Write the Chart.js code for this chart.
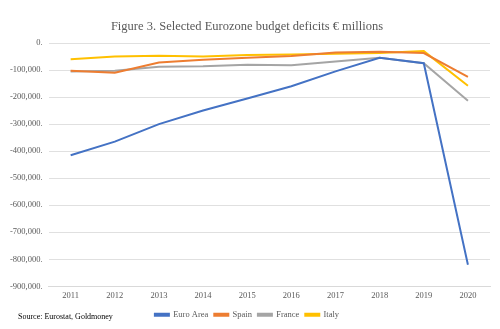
<!DOCTYPE html>
<html><head><meta charset="utf-8">
<script src="https://cdn.jsdelivr.net/npm/chart.js@4/dist/chart.umd.min.js"></script>
<style>
html,body{margin:0;padding:0;background:#fff;}
#wrap{position:relative;width:500px;height:329px;}
#src{position:absolute;left:18px;top:312px;font-family:"Liberation Serif",serif;font-size:8px;color:#000;}
</style></head><body>
<div id="wrap"><canvas id="c" width="500" height="329"></canvas><div id="src">Source: Eurostat, Goldmoney</div></div>
<script>
const years = ['2011','2012','2013','2014','2015','2016','2017','2018','2019','2020'];
const euroArea = [-415000,-365000,-300000,-250000,-205000,-160000,-105000,-55000,-75000,-820000];
const spain = [-103000,-110000,-72000,-62000,-55000,-48000,-35000,-32000,-37000,-125000];
const france = [-105000,-103000,-88000,-86000,-80000,-82000,-68000,-55000,-75000,-214000];
const italy = [-60000,-50000,-47000,-50000,-44000,-43000,-40000,-37000,-30000,-158000];
const serif = '"Liberation Serif", serif';
function ds(label, data, color){
  return {label, data, borderColor: color, backgroundColor: color, borderWidth: 2, pointRadius: 0, tension: 0, fill: false};
}
new Chart(document.getElementById('c'), {
  type: 'line',
  data: { labels: years, datasets: [
    ds('Euro Area', euroArea, '#4472C4'),
    ds('Spain', spain, '#ED7D31'),
    ds('France', france, '#A5A5A5'),
    ds('Italy', italy, '#FFC000')
  ]},
  options: {
    responsive: false, animation: false,
    layout: { padding: { left: 4, right: 10, top: 4, bottom: 0 } },
    plugins: {
      title: { display: true, text: 'Figure 3. Selected Eurozone budget deficits € millions',
        font: { family: serif, size: 12.5, weight: 'normal' }, color: '#595959', padding: { top: 15, bottom: 9 } },
      legend: { position: 'bottom', labels: { boxWidth: 14, boxHeight: 2, font: { family: serif, size: 8.5 }, color: '#595959', padding: 6 } },
      tooltip: { enabled: false }
    },
    scales: {
      x: { offset: true, grid: { display: false, drawTicks: false, tickLength: 0 }, border: { color: '#d9d9d9' },
        ticks: { padding: 4, font: { family: serif, size: 8.5 }, color: '#595959', maxRotation: 0 } },
      y: { min: -900000, max: 0, ticks: { stepSize: 100000, padding: 6, font: { family: serif, size: 8.5 }, color: '#595959',
          callback: v => v.toLocaleString('en-US') + '.' },
        grid: { color: '#e0e0e0', drawTicks: false }, border: { display: false } }
    }
  }
});
</script>
</body></html>
